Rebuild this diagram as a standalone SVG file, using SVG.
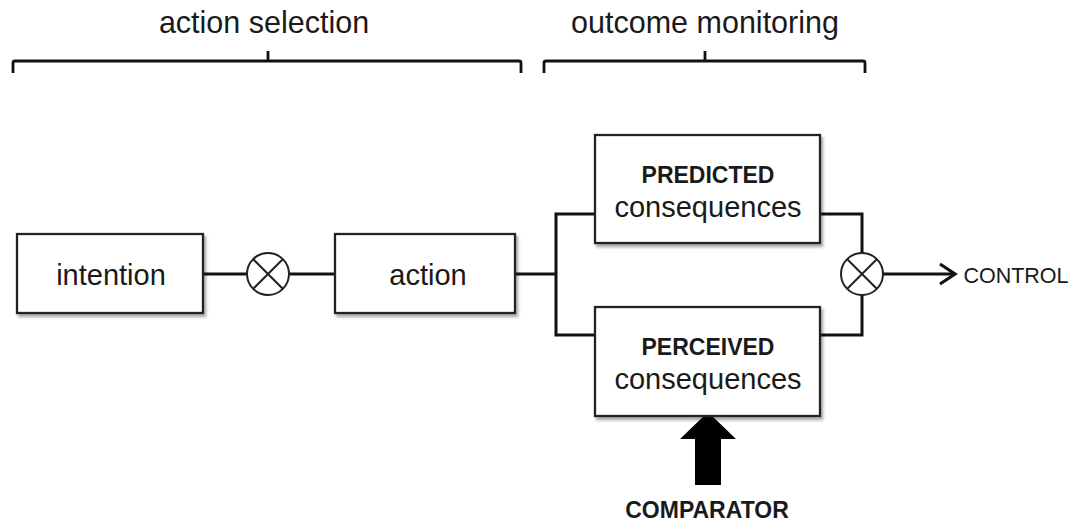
<svg xmlns="http://www.w3.org/2000/svg" width="1078" height="522" viewBox="0 0 1078 522">
  <style>
    .box { fill: #fff; stroke: #222; stroke-width: 2.3; filter: url(#shadow); }
    .wire { fill: none; stroke: #111; stroke-width: 3; }
    .brace { fill: none; stroke: #111; stroke-width: 2.8; stroke-linejoin: round; }
    .mult { fill: #fff; stroke: #222; stroke-width: 2; }
    .t { font-family: "Liberation Sans", Arial, sans-serif; fill: #1a1a1a; text-anchor: middle; }
    .head { font-size: 30.5px; }
    .big { font-size: 29px; }
    .mid { font-size: 29px; }
    .bold { font-size: 23px; font-weight: bold; }
  </style>
  <defs>
    <filter id="shadow" x="-10%" y="-10%" width="125%" height="130%">
      <feDropShadow dx="2" dy="3" stdDeviation="1.5" flood-color="#000" flood-opacity="0.35"/>
    </filter>
    <marker id="head" markerWidth="20" markerHeight="24" refX="17" refY="12" orient="auto" markerUnits="userSpaceOnUse">
      <path d="M2,2 L17,12 L2,22" fill="none" stroke="#111" stroke-width="3.2"/>
    </marker>
  </defs>

  <!-- section headings with braces -->
  <g id="action-selection">
    <text class="t head" x="264" y="33">action selection</text>
    <path class="brace" d="M13,73 V63 Q13,61 15,61 H519 Q521,61 521,63 V73 M268,61 V51"/>
  </g>
  <g id="outcome-monitoring">
    <text class="t head" x="705" y="33">outcome monitoring</text>
    <path class="brace" d="M544,73 V63 Q544,61 546,61 H863 Q865,61 865,63 V73 M705,61 V51"/>
  </g>

  <!-- connectors -->
  <g id="connectors">
    <path class="wire" d="M203,274 H247"/>
    <path class="wire" d="M289,274 H335"/>
    <path class="wire" d="M515,274 H556"/>
    <path class="wire" d="M595,214 H556 V335 H595"/>
    <path class="wire" d="M820,214 H862 V253"/>
    <path class="wire" d="M820,335 H862 V295"/>
    <path class="wire" d="M883,274 H955" marker-end="url(#head)"/>
    <!-- comparator block arrow -->
    <path d="M708,412 L736,439 H721 V485 H695 V439 H680 Z" fill="#000"/>
  </g>

  <g id="intention">
    <rect class="box" x="17" y="234" width="186" height="79"/>
    <text class="t big" x="111" y="285">intention</text>
  </g>

  <g id="mult-1">
    <circle class="mult" cx="268" cy="274" r="21"/>
    <path d="M253,259 L283,289 M283,259 L253,289" stroke="#222" stroke-width="2"/>
  </g>

  <g id="action">
    <rect class="box" x="335" y="234" width="180" height="79"/>
    <text class="t big" x="428" y="285">action</text>
  </g>

  <g id="predicted">
    <rect class="box" x="595" y="135" width="225" height="108"/>
    <text class="t bold" x="708" y="183">PREDICTED</text>
    <text class="t mid" x="708" y="217">consequences</text>
  </g>

  <g id="perceived">
    <rect class="box" x="595" y="307" width="225" height="109"/>
    <text class="t bold" x="708" y="355">PERCEIVED</text>
    <text class="t mid" x="708" y="389">consequences</text>
  </g>

  <g id="mult-2">
    <circle class="mult" cx="862" cy="274" r="21"/>
    <path d="M847,259 L877,289 M877,259 L847,289" stroke="#222" stroke-width="2"/>
  </g>

  <g id="control">
    <text class="t" x="1016" y="283" style="font-size:21.5px">CONTROL</text>
  </g>

  <g id="comparator">
    <text class="t bold" x="707" y="518">COMPARATOR</text>
  </g>
</svg>
